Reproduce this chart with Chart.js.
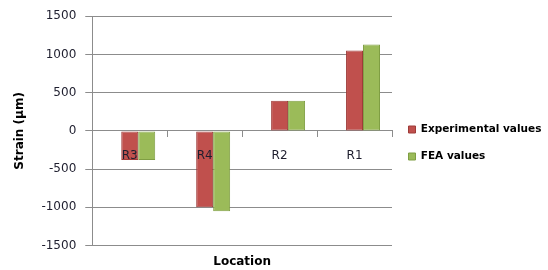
<!DOCTYPE html>
<html>
<head>
<meta charset="utf-8">
<script src="https://cdn.jsdelivr.net/npm/chart.js@4.4.1/dist/chart.umd.min.js"></script>
<style>
  html, body { margin: 0; padding: 0; background: #fff; }
  #wrap { width: 548px; height: 270px; position: relative; }
</style>
</head>
<body>
<div id="wrap"><canvas id="strainChart"></canvas></div>
<script>
// data
const categories = ['R3', 'R4', 'R2', 'R1'];
const experimental = [-380, -1000, 395, 1050];
const fea = [-380, -1050, 395, 1130];
const blank = [null, null, null, null]; // empty first series (Excel left a gap for it)
const yTicks = [-1500, -1000, -500, 0, 500, 1000, 1500];

const gridGray = '#8c8c8c';
const textColor = '#1e1e2e';

const ctx = document.getElementById('strainChart');
new Chart(ctx, {
  type: 'bar',
  data: {
    labels: categories,
    datasets: [
      { label: '', data: blank },
      {
        label: 'Experimental values',
        data: experimental,
        backgroundColor: '#C0504D',
        borderColor: '#9E3B38',
        borderWidth: 1,
        borderSkipped: false
      },
      {
        label: 'FEA values',
        data: fea,
        backgroundColor: '#9BBB59',
        borderColor: '#7F9E43',
        borderWidth: 1,
        borderSkipped: false
      }
    ]
  },
  options: {
    responsive: true,
    maintainAspectRatio: false,
    animation: false,
    layout: { padding: { left: 9, right: 0, top: 16, bottom: 0 } },
    datasets: { bar: { categoryPercentage: 0.68, barPercentage: 1 } },
    scales: {
      x: {
        position: { y: 0 },
        grid: { drawOnChartArea: false, drawTicks: true, tickLength: 6, color: gridGray, offset: true },
        border: { color: gridGray },
        ticks: { z: 1, padding: 12, color: textColor, font: { family: 'DejaVu Sans', size: 12 } }
      },
      y: {
        min: -1500,
        max: 1500,
        afterBuildTicks: axis => { axis.ticks = yTicks.map(v => ({ value: v })); },
        grid: { color: gridGray, tickLength: 7 },
        border: { color: gridGray },
        ticks: {
          padding: 9,
          color: textColor,
          font: { family: 'DejaVu Sans', size: 12 },
          callback: v => String(v)
        },
        title: {
          display: true,
          text: 'Strain (μm)',
          color: '#000',
          font: { family: 'DejaVu Sans', size: 12, weight: 'bold' },
          padding: { top: 4, bottom: 5 }
        }
      }
    },
    plugins: {
      legend: {
        position: 'right',
        maxWidth: 156,
        labels: {
          boxWidth: 7,
          boxHeight: 7,
          padding: 16.5,
          color: '#000',
          font: { family: 'DejaVu Sans', size: 10.5, weight: 'bold' },
          filter: item => item.text !== ''
        }
      },
      title: {
        display: true,
        text: 'Location',
        position: 'bottom',
        fullSize: false,
        color: '#000',
        font: { family: 'DejaVu Sans', size: 12, weight: 'bold' },
        padding: { top: 9, bottom: 1 }
      },
      tooltip: { enabled: false }
    }
  }
});
</script>
</body>
</html>
